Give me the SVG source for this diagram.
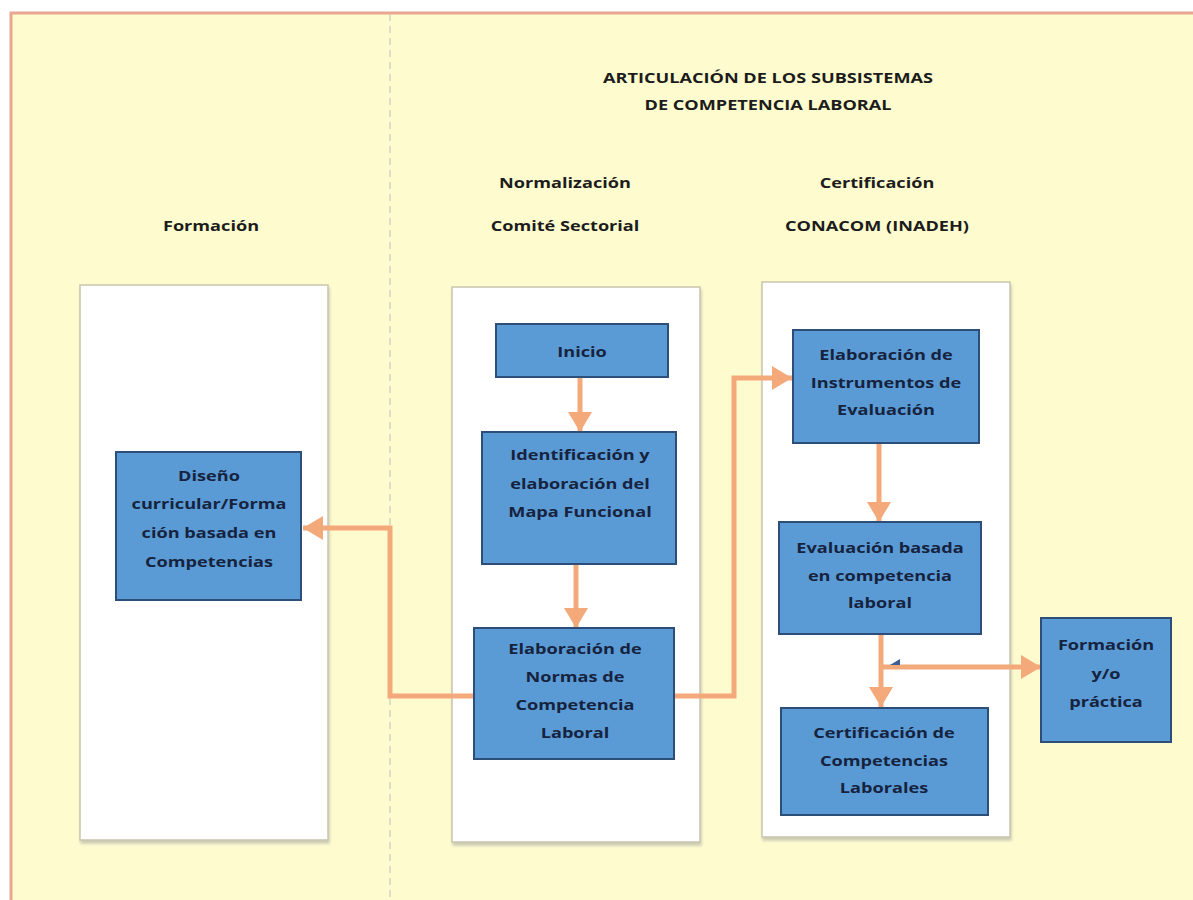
<svg xmlns="http://www.w3.org/2000/svg" width="1193" height="900" viewBox="0 0 1193 900">
<defs>
<style>
.hdr{font-family:"Open Sans","Liberation Sans",sans-serif;font-weight:bold;font-size:15px;fill:#1c1c1c;text-anchor:middle}
.nt{font-family:"Open Sans","Liberation Sans",sans-serif;font-weight:bold;font-size:15px;fill:#16233f;text-anchor:middle}
.panel{fill:#ffffff;stroke:#c9c6ad;stroke-width:1.5}
.box{fill:#5b9bd5;stroke:#2c4e78;stroke-width:2}
.conn{fill:none;stroke:#f4a97b;stroke-width:5}
</style>
<marker id="ah" markerUnits="userSpaceOnUse" markerWidth="22" markerHeight="24" refX="20" refY="12" orient="auto">
<path d="M0,0 L20,12 L0,24 Z" fill="#f4a97b"/>
</marker>
<filter id="sh" x="-5%" y="-5%" width="110%" height="110%">
<feDropShadow dx="1" dy="3" stdDeviation="1.5" flood-color="#999" flood-opacity="0.5"/>
</filter>
</defs>
<rect x="0" y="0" width="1193" height="900" fill="#ffffff"/>
<rect x="11" y="13" width="1200" height="900" fill="#fefccf" stroke="#e8a690" stroke-width="3"/>
<line x1="390" y1="14" x2="390" y2="900" stroke="#c3cbbd" stroke-width="1.2" stroke-dasharray="7 5"/>

<g id="headers">
<g transform="matrix(1.21,0,0,1,-161.28,0)">
<text class="hdr" x="768" y="83">ARTICULACIÓN DE LOS SUBSISTEMAS</text>
<text class="hdr" x="768" y="110">DE COMPETENCIA LABORAL</text>
</g>
<g transform="matrix(1.21,0,0,1,-118.65,0)">
<text class="hdr" x="565" y="188">Normalización</text>
<text class="hdr" x="565" y="231">Comité Sectorial</text>
</g>
<g transform="matrix(1.21,0,0,1,-184.17,0)">
<text class="hdr" x="877" y="188">Certificación</text>
<text class="hdr" x="877" y="231">CONACOM (INADEH)</text>
</g>
<g transform="matrix(1.21,0,0,1,-44.31,0)">
<text class="hdr" x="211" y="231">Formación</text>
</g>
</g>

<g id="panels">
<rect class="panel" x="80" y="285" width="248" height="555" filter="url(#sh)"/>
<rect class="panel" x="452" y="287" width="248" height="555" filter="url(#sh)"/>
<rect class="panel" x="762" y="282" width="248" height="555" filter="url(#sh)"/>
</g>

<g id="connectors">
<line class="conn" x1="580" y1="377" x2="580" y2="432" marker-end="url(#ah)"/>
<line class="conn" x1="576" y1="564" x2="576" y2="628" marker-end="url(#ah)"/>
<polyline class="conn" points="474,696 390,696 390,528 303,528" marker-end="url(#ah)"/>
<polyline class="conn" points="674,696 734,696 734,378 792,378" marker-end="url(#ah)"/>
<line class="conn" x1="879" y1="443" x2="879" y2="522" marker-end="url(#ah)"/>
<line class="conn" x1="881" y1="634" x2="881" y2="707" marker-end="url(#ah)"/>
<line class="conn" x1="881" y1="667" x2="1041" y2="667" marker-end="url(#ah)"/>
<path d="M890,665 L900,659 L900,665 Z" fill="#3b5f95"/>
</g>

<g id="n-diseno">
<rect class="box" x="116" y="452" width="185" height="148"/>
<g transform="matrix(1.21,0,0,1,-43.89,0)">
<text class="nt" x="209" y="481">Diseño</text>
<text class="nt" x="209" y="509">curricular/Forma</text>
<text class="nt" x="209" y="538">ción basada en</text>
<text class="nt" x="209" y="567">Competencias</text>
</g>
</g>

<g id="n-inicio">
<rect class="box" x="496" y="324" width="172" height="53"/>
<g transform="matrix(1.21,0,0,1,-122.22,0)">
<text class="nt" x="582" y="357">Inicio</text>
</g>
</g>

<g id="n-identificacion">
<rect class="box" x="482" y="432" width="194" height="132"/>
<g transform="matrix(1.21,0,0,1,-121.8,0)">
<text class="nt" x="580" y="460">Identificación y</text>
<text class="nt" x="580" y="489">elaboración del</text>
<text class="nt" x="580" y="517">Mapa Funcional</text>
</g>
</g>

<g id="n-normas">
<rect class="box" x="474" y="628" width="200" height="131"/>
<g transform="matrix(1.21,0,0,1,-120.75,0)">
<text class="nt" x="575" y="654">Elaboración de</text>
<text class="nt" x="575" y="682">Normas de</text>
<text class="nt" x="575" y="710">Competencia</text>
<text class="nt" x="575" y="738">Laboral</text>
</g>
</g>

<g id="n-instrumentos">
<rect class="box" x="793" y="330" width="186" height="113"/>
<g transform="matrix(1.21,0,0,1,-186.06,0)">
<text class="nt" x="886" y="360">Elaboración de</text>
<text class="nt" x="886" y="388">Instrumentos de</text>
<text class="nt" x="886" y="415">Evaluación</text>
</g>
</g>

<g id="n-evaluacion">
<rect class="box" x="779" y="522" width="202" height="112"/>
<g transform="matrix(1.21,0,0,1,-184.8,0)">
<text class="nt" x="880" y="553">Evaluación basada</text>
<text class="nt" x="880" y="581">en competencia</text>
<text class="nt" x="880" y="608">laboral</text>
</g>
</g>

<g id="n-certificacion">
<rect class="box" x="781" y="708" width="207" height="107"/>
<g transform="matrix(1.21,0,0,1,-185.64,0)">
<text class="nt" x="884" y="738">Certificación de</text>
<text class="nt" x="884" y="766">Competencias</text>
<text class="nt" x="884" y="793">Laborales</text>
</g>
</g>

<g id="n-formacion-practica">
<rect class="box" x="1041" y="618" width="130" height="124"/>
<g transform="matrix(1.21,0,0,1,-232.26,0)">
<text class="nt" x="1106" y="650">Formación</text>
<text class="nt" x="1106" y="679">y/o</text>
<text class="nt" x="1106" y="707">práctica</text>
</g>
</g>
</svg>
